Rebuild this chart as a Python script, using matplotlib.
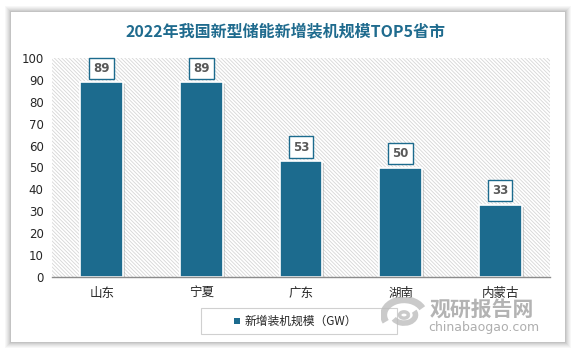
import matplotlib
matplotlib.use("Agg")
import matplotlib.pyplot as plt
import matplotlib.patheffects as pe
from matplotlib.patches import Rectangle, Arc

plt.rcParams['font.family'] = ['Noto Sans CJK SC', 'DejaVu Sans']
plt.rcParams['hatch.color'] = '#d6d6d6'
plt.rcParams['hatch.linewidth'] = 0.6

title = '2022年我国新型储能新增装机规模TOP5省市'
categories = ['山东', '宁夏', '广东', '湖南', '内蒙古']
values = [89, 89, 53, 50, 33]
series_name = '新增装机规模（GW）'
yticks = [0, 10, 20, 30, 40, 50, 60, 70, 80, 90, 100]

W, H = 573, 357
fig = plt.figure(figsize=(W / 100, H / 100), dpi=100)
fig.patch.set_facecolor('white')

# card shadow
for i, a in enumerate([0.03, 0.03, 0.035, 0.04, 0.05, 0.06]):
    d = 6 - i
    fig.patches.append(Rectangle(((11 - d) / W, 1 - (342 + d) / H), (554 + 2 * d) / W, (330 + 2 * d) / H,
                                 transform=fig.transFigure, facecolor='black', alpha=a,
                                 edgecolor='none', zorder=0))
fig.patches.append(Rectangle((11 / W, 1 - 342 / H), 554 / W, 330 / H, transform=fig.transFigure,
                             facecolor='white', edgecolor='none', zorder=1))

ax = fig.add_axes([52 / W, 1 - 277 / H, 498 / W, 219 / H])
ax.set_zorder(2)
ax.patch.set_facecolor('white')
ax.add_patch(Rectangle((0, 0), 1, 1, transform=ax.transAxes, facecolor='white',
                       hatch='\\' * 9, edgecolor='#d6d6d6', linewidth=0, zorder=0))

x = list(range(len(categories)))
bars = ax.bar(x, values, width=0.43, color='#1c6b8e', edgecolor='white', linewidth=1.2, zorder=3)
for b in bars:
    b.set_path_effects([pe.SimplePatchShadow(offset=(1.5, -1.5), shadow_rgbFace='#888888', alpha=0.35),
                        pe.Normal()])

for xi, v in zip(x, values):
    ax.annotate(str(v), (xi, v), xytext=(0, 10), textcoords='offset points',
                ha='center', va='center', fontsize=8.5, fontweight='bold', color='#595959',
                family='DejaVu Sans',
                bbox=dict(boxstyle='square,pad=0.35', facecolor='white', edgecolor='#1c6b8e', linewidth=1.0),
                zorder=5)

ax.set_xlim(-0.5, len(categories) - 0.5)
ax.set_ylim(0, 100)
ax.set_yticks(yticks)
ax.set_yticklabels([str(t) for t in yticks], fontsize=8.5, color='#262626', family='DejaVu Sans')
ax.set_xticks(x)
ax.set_xticklabels(categories, fontsize=9, color='#262626')
ax.tick_params(axis='both', length=0, pad=6)
ax.tick_params(axis='x', pad=7)
for s in ['top', 'right', 'left']:
    ax.spines[s].set_visible(False)
ax.spines['bottom'].set_color('#8c8c8c')
ax.spines['bottom'].set_linewidth(1.0)
ax.spines['bottom'].set_zorder(4)

fig.text(286 / W, 1 - 31 / H, title, ha='center', va='center', fontsize=11.5,
         fontweight='bold', color='#1f6b8e', zorder=5)

# legend
fig.patches.append(Rectangle((201 / W, 1 - 334 / H), 196 / W, 26 / H, transform=fig.transFigure,
                             facecolor='white', edgecolor='#d0d0d0', linewidth=0.8, zorder=3))
fig.patches.append(Rectangle((234 / W, 1 - 324 / H), 6 / W, 6 / H, transform=fig.transFigure,
                             facecolor='#1c6b8e', edgecolor='none', zorder=4))
fig.text(245 / W, 1 - 321 / H, series_name, ha='left', va='center', fontsize=8.5, color='#262626', zorder=5)

# watermark logo (swirl) and text
wax = fig.add_axes([381 / W, 1 - 333 / H, 46 / W, 36 / H])
wax.set_zorder(6)
wax.set_xlim(-1.3, 1.3)
wax.set_ylim(-1.0, 1.0)
wax.axis('off')
wax.patch.set_alpha(0)
for (w, h, t1, t2, lw) in [(2.3, 1.7, 20, 200, 5), (1.3, 0.9, 200, 20, 4), (0.5, 0.35, 0, 360, 2.5)]:
    wax.add_patch(Arc((0, 0), w, h, theta1=t1, theta2=t2, color='#bdbdbd', lw=lw, alpha=0.8))
fig.text(430 / W, 1 - 309 / H, '观研报告网', ha='left', va='center', fontsize=15, fontweight='bold',
         color='#a0a0a0', alpha=0.8, zorder=7)
fig.text(428 / W, 1 - 328 / H, 'chinabaogao.com', ha='left', va='center', fontsize=9,
         color='#a0a0a0', alpha=0.85, family='DejaVu Sans', zorder=7)

fig.savefig('out.png', dpi=100, facecolor='white')
